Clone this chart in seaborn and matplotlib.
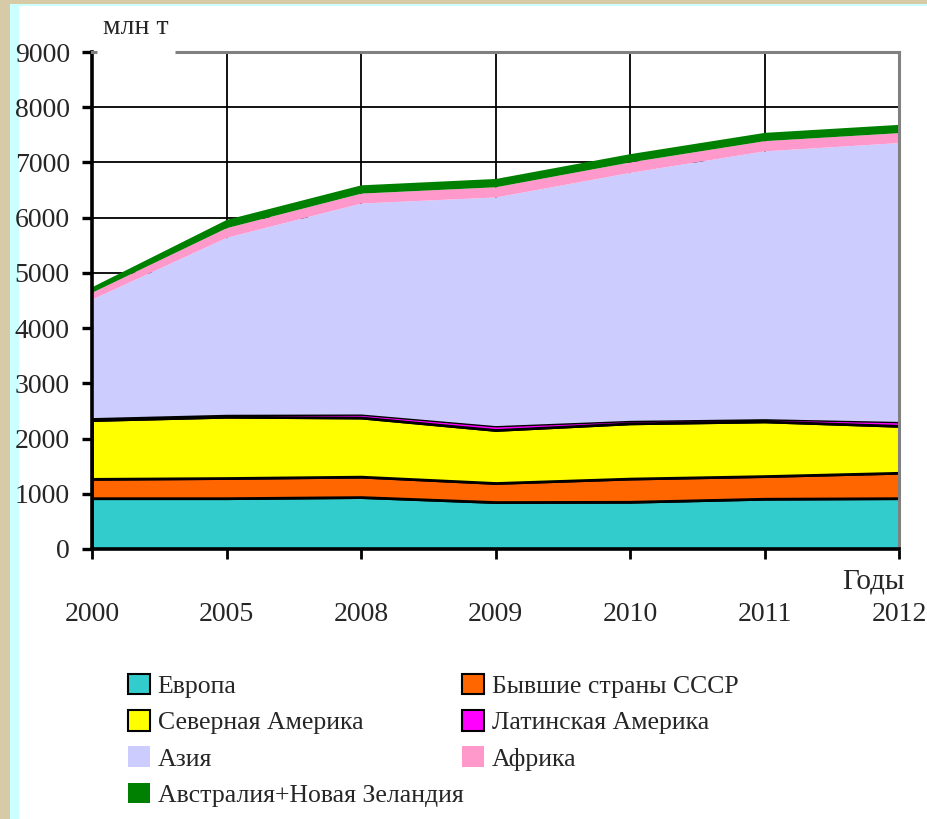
import matplotlib
matplotlib.use("Agg")
import matplotlib.pyplot as plt
import seaborn as sns
import numpy as np
import pandas as pd
from matplotlib.patches import Rectangle, Patch

# ---- data (млн т) ----
years = ["2000", "2005", "2008", "2009", "2010", "2011", "2012"]
europe = [920, 920, 940, 850, 855, 910, 920]
ussr = [350, 365, 370, 345, 420, 410, 460]
north_america = [1065, 1110, 1070, 960, 1000, 990, 850]
latin_america = [45, 45, 65, 80, 55, 50, 80]
asia = [2147, 3205, 3820, 4140, 4490, 4850, 5050]
africa = [125, 175, 180, 185, 190, 185, 180]
australia = [100, 150, 150, 150, 150, 150, 150]

labels = ["Европа", "Бывшие страны СССР", "Северная Америка", "Латинская Америка",
          "Азия", "Африка", "Австралия+Новая Зеландия"]
colors = ["#33CCCC", "#FF6600", "#FFFF00", "#FF00FF", "#CCCCFF", "#FF99CC", "#008000"]
edged = [True, True, True, True, False, False, False]

df = pd.DataFrame({"year": years, labels[0]: europe, labels[1]: ussr, labels[2]: north_america,
                   labels[3]: latin_america, labels[4]: asia, labels[5]: africa, labels[6]: australia})

sns.set_style("white")
plt.rcParams["font.family"] = ["Liberation Serif", "DejaVu Serif"]

W, H = 927, 819
fig = plt.figure(figsize=(W / 100, H / 100), dpi=100)
fig.patch.set_facecolor("white")

# frame decoration
def px_rect(x0, y0, x1, y1, color):
    fig.add_artist(Rectangle((x0 / W, 1 - y1 / H), (x1 - x0) / W, (y1 - y0) / H,
                             transform=fig.transFigure, facecolor=color, edgecolor="none", zorder=-5))

px_rect(0, 0, W, 4, "#D6CBA6")
px_rect(0, 0, 10, H, "#D6CBA6")
px_rect(10, 4, W, 6, "#CCFFFF")
px_rect(10, 4, 19, H, "#CCFFFF")

ax = fig.add_axes([92 / W, 1 - 549 / H, (899 - 92) / W, (549 - 52) / H])
ax.set_facecolor("white")

x = np.arange(len(years))
ys = [df[l].values for l in labels]
polys = ax.stackplot(x, *ys, colors=colors, linewidth=0, zorder=2)
for p, e in zip(polys, edged):
    if e:
        p.set_edgecolor("black")
        p.set_linewidth(2.0)

ax.set_xlim(0, len(years) - 1)
ax.set_ylim(0, 9000)
ax.set_xticks(x)
ax.set_xticklabels(years)
ax.set_yticks(np.arange(0, 9001, 1000))
ax.grid(True, color="black", linewidth=1.3)
ax.set_axisbelow(True)

for s in ["left", "bottom"]:
    ax.spines[s].set_color("black")
    ax.spines[s].set_linewidth(2.6)
for s in ["top", "right"]:
    ax.spines[s].set_color("#808080")
    ax.spines[s].set_linewidth(2.2)
    ax.spines[s].set_visible(True)

# gap in the top line under the unit label
ax.plot([(97 - 92) / 807 * 6, (175 - 92) / 807 * 6], [9000, 9000], color="white",
        linewidth=3.5, clip_on=False, zorder=5, solid_capstyle="butt")

ax.tick_params(axis="y", direction="out", length=7, width=2.4, color="black",
               labelsize=20, pad=9, left=True)
ax.tick_params(axis="x", direction="out", length=7, width=2.0, color="black",
               labelsize=20, pad=31, bottom=True)

fig.text(103 / W, 1 - 28 / H, "млн т", fontsize=20, ha="left", va="center")
fig.text(905 / W, 1 - 581 / H, "Годы", fontsize=21, ha="right", va="center")

handles = [Patch(facecolor=c, edgecolor="black" if e else c, linewidth=1.5 if e else 0)
           for c, e in zip(colors, edged)]
leg_kw = dict(loc="upper left", frameon=False, fontsize=18.5, handlelength=0.85,
              handleheight=0.85, handletextpad=0.3, labelspacing=0.47,
              borderaxespad=0, borderpad=0)
col1 = [0, 2, 4, 6]
col2 = [1, 3, 5]
leg1 = fig.legend([handles[i] for i in col1], [labels[i] for i in col1],
                  bbox_to_anchor=(128 / W, 1 - 674 / H), **leg_kw)
leg2 = fig.legend([handles[i] for i in col2], [labels[i] for i in col2],
                  bbox_to_anchor=(462 / W, 1 - 674 / H), **leg_kw)

fig.savefig("out.png", dpi=100)
